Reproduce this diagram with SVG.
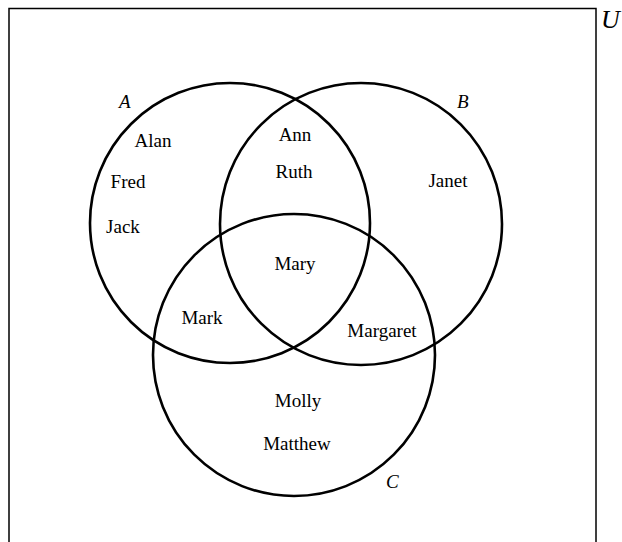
<svg xmlns="http://www.w3.org/2000/svg" width="622" height="542" viewBox="0 0 622 542">
<style>
.set{fill:none;stroke:#000;stroke-width:2.6}
.frame{fill:none;stroke:#000;stroke-width:1.5}
.name{font-family:"Liberation Serif","Times New Roman",serif;font-size:19px;fill:#000;text-anchor:middle}
.lbl{font-family:"Liberation Serif","Times New Roman",serif;font-size:19px;font-style:italic;fill:#000}
</style>
<rect width="622" height="542" fill="#fff"/>
<g id="universe">
<rect class="frame" x="9" y="8.5" width="587" height="540"/>
<text class="lbl" x="601" y="28" style="font-size:26px">U</text>
</g>
<g id="setA">
<circle class="set" cx="230" cy="223" r="140"/>
<text class="lbl" x="119" y="108">A</text>
</g>
<g id="setB">
<circle class="set" cx="361" cy="224" r="141"/>
<text class="lbl" x="457" y="108">B</text>
</g>
<g id="setC">
<circle class="set" cx="294" cy="355" r="141"/>
<text class="lbl" x="386" y="488">C</text>
</g>
<g id="names">
<text class="name" x="153" y="147">Alan</text>
<text class="name" x="128" y="188">Fred</text>
<text class="name" x="123" y="233">Jack</text>
<text class="name" x="295" y="141">Ann</text>
<text class="name" x="294" y="178">Ruth</text>
<text class="name" x="448" y="187">Janet</text>
<text class="name" x="295" y="270">Mary</text>
<text class="name" x="202" y="324">Mark</text>
<text class="name" x="382" y="337">Margaret</text>
<text class="name" x="298" y="407">Molly</text>
<text class="name" x="297" y="450">Matthew</text>
</g>
<g id="connectors"/>
</svg>
